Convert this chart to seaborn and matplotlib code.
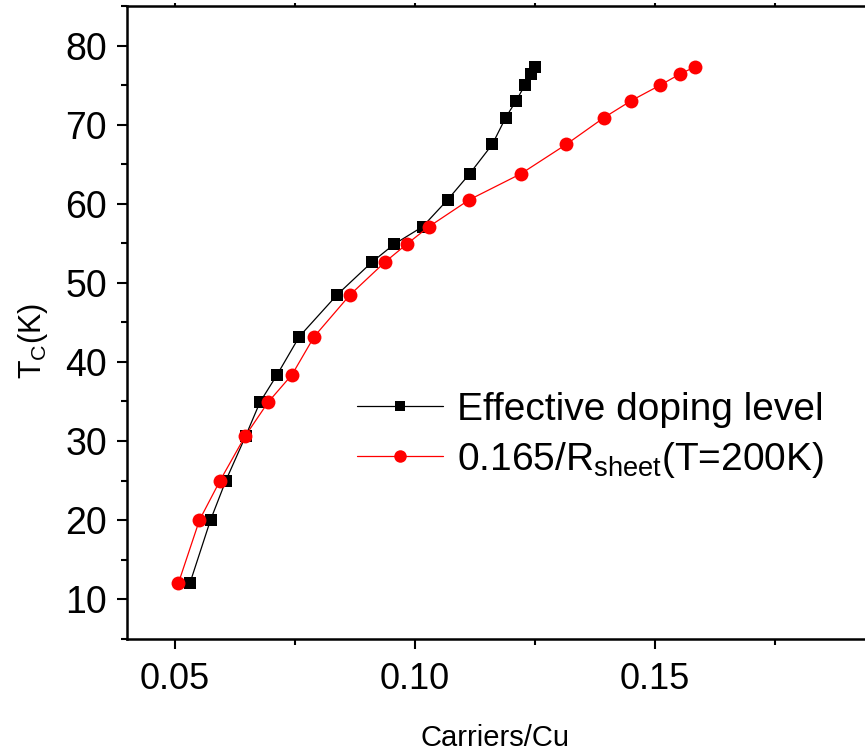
import matplotlib
matplotlib.use("Agg")
import matplotlib.pyplot as plt
from matplotlib.ticker import MultipleLocator, FormatStrFormatter
import seaborn as sns
import pandas as pd

# ---- data ----
tc_values = [12.0, 20.0, 25.0, 30.6, 34.9, 38.4, 43.2, 48.5, 52.6, 54.9,
             57.1, 60.5, 63.8, 67.5, 70.9, 73.05, 75.0, 76.4, 77.3]
carriers_effective = [0.0531, 0.0574, 0.0606, 0.0647, 0.0677, 0.0713, 0.0759,
                      0.0838, 0.0910, 0.0957, 0.1016, 0.1068, 0.1114, 0.1161,
                      0.1189, 0.1211, 0.1229, 0.1242, 0.1250]
carriers_rsheet = [0.0507, 0.0551, 0.0594, 0.0646, 0.0694, 0.0744, 0.0790,
                   0.0865, 0.0937, 0.0983, 0.1029, 0.1113, 0.1221, 0.1315,
                   0.1394, 0.1451, 0.1511, 0.1552, 0.1583]
series_labels = ["Effective doping level", "0.165/R$_\\mathrm{sheet}$(T=200K)"]
x_ticks = [0.05, 0.10, 0.15]
y_ticks = [10, 20, 30, 40, 50, 60, 70, 80]

df_eff = pd.DataFrame({"x": carriers_effective, "y": tc_values})
df_rs = pd.DataFrame({"x": carriers_rsheet, "y": tc_values})

sns.set_style("ticks")
plt.rcParams["font.family"] = ["Liberation Sans", "DejaVu Sans"]
plt.rcParams["mathtext.fontset"] = "custom"
plt.rcParams["mathtext.rm"] = "Liberation Sans"
plt.rcParams["mathtext.it"] = "Liberation Sans:italic"
plt.rcParams["mathtext.bf"] = "Liberation Sans:bold"
for key in ["text.color", "axes.labelcolor", "xtick.color", "ytick.color",
            "axes.edgecolor"]:
    plt.rcParams[key] = "black"

fig = plt.figure(figsize=(8.65, 7.53), dpi=100)
ax = fig.add_axes([0.1468, 0.1518, 1.0347 - 0.1468, 0.992 - 0.1518])

sns.lineplot(data=df_eff, x="x", y="y", ax=ax, color="black", marker="s",
             markersize=8.5, markeredgewidth=0, linewidth=0.9, sort=False,
             estimator=None, label=series_labels[0])
sns.lineplot(data=df_rs, x="x", y="y", ax=ax, color="#ff0000", marker="o",
             markersize=10, markeredgewidth=0, linewidth=0.9, sort=False,
             estimator=None, label=series_labels[1])

ax.set_xlim(0.04, 0.2)
ax.set_ylim(5, 85)
ax.set_xticks(x_ticks)
ax.set_yticks(y_ticks)
ax.xaxis.set_major_formatter(FormatStrFormatter("%.2f"))
ax.xaxis.set_minor_locator(MultipleLocator(0.025))
ax.yaxis.set_minor_locator(MultipleLocator(5))

for side in ["left", "bottom", "top", "right"]:
    ax.spines[side].set_linewidth(1.8)
    ax.spines[side].set_color("black")

ax.tick_params(axis="both", which="major", direction="out", length=7.5,
               width=1.5, color="black")
ax.tick_params(axis="both", which="minor", direction="out", length=4.5,
               width=1.5, color="black")
ax.tick_params(axis="x", which="both", top=True, bottom=True)
ax.tick_params(axis="y", which="major", labelsize=27, pad=7)
ax.tick_params(axis="x", which="major", labelsize=26, pad=9)

ax.set_xlabel("Carriers/Cu", fontsize=21)
ax.set_ylabel("T$_\\mathrm{C}$(K)", fontsize=22)
ax.xaxis.set_label_coords(0.479, -0.135)
ax.yaxis.set_label_coords(-0.100, 0.47)

leg = ax.legend(loc="upper left", bbox_to_anchor=(0.30, 0.39),
                frameon=False, fontsize=28, handlelength=2.2,
                handletextpad=0.35, labelspacing=0.3, borderpad=0,
                borderaxespad=0, markerscale=0.9)

fig.canvas.draw()
for t in ax.xaxis.get_major_ticks() + ax.xaxis.get_minor_ticks():
    t.tick2line.set_markersize(2)
    t.tick2line.set_color("#777777")

fig.savefig("out.png", dpi=100)
